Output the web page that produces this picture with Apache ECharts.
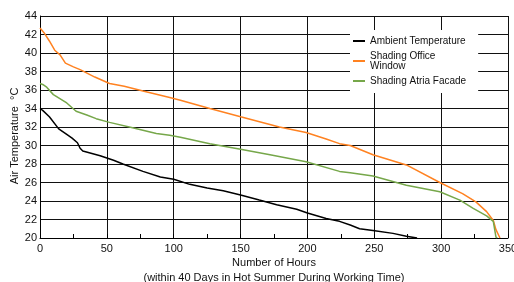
<!DOCTYPE html>
<html>
<head>
<meta charset="utf-8">
<style>
  html, body { margin: 0; padding: 0; background: #fff; }
  #main { width: 514px; height: 282px; }
</style>
<script src="https://cdn.jsdelivr.net/npm/echarts@6/dist/echarts.min.js"></script>
</head>
<body>
<div id="main"></div>
<script>
  // duration curves
  var ambientHours = [0, 2, 7, 14, 20, 24, 28, 30, 32, 45, 55, 62, 77, 90, 100, 112, 125, 137, 150, 164, 177, 192, 200, 214, 224, 232, 239, 249, 264, 274, 282];
  var ambientTemp  = [34.0, 33.8, 33.1, 31.8, 31.2, 30.8, 30.3, 29.7, 29.4, 28.9, 28.4, 28.0, 27.2, 26.6, 26.35, 25.8, 25.4, 25.1, 24.65, 24.1, 23.6, 23.1, 22.7, 22.1, 21.8, 21.4, 21.0, 20.8, 20.5, 20.2, 20.0];

  var officeHours = [0, 3, 7, 11, 15, 19, 25, 30, 41, 52, 63, 77, 97, 105, 127, 150, 179, 199, 214, 224, 232, 249, 274, 299, 316, 326, 334, 339, 341, 344];
  var officeTemp  = [42.7, 42.2, 41.3, 40.3, 39.8, 38.9, 38.5, 38.2, 37.4, 36.7, 36.4, 35.9, 35.2, 34.9, 34.0, 33.1, 32.0, 31.4, 30.7, 30.2, 30.0, 29.0, 27.9, 26.0, 24.8, 23.9, 22.85, 21.9, 20.9, 20.0];

  var atriaHours = [0, 2, 5, 10, 20, 27, 35, 42, 52, 70, 87, 97, 105, 127, 150, 172, 199, 224, 232, 249, 274, 299, 314, 324, 334, 339, 341, 342];
  var atriaTemp  = [36.7, 36.6, 36.3, 35.5, 34.6, 33.7, 33.3, 32.9, 32.5, 31.9, 31.3, 31.1, 30.9, 30.2, 29.6, 29.0, 28.25, 27.2, 27.05, 26.7, 25.7, 25.0, 24.1, 23.2, 22.4, 21.8, 20.1, 20.0];

  var seriesNames = ['Ambient Temperature', 'Shading Office\nWindow', 'Shading Atria Facade'];
  var seriesColors = ['#000000', '#FF8221', '#76A74A'];

  function pairs(xs, ys) {
    var out = [];
    for (var i = 0; i < xs.length; i++) out.push([xs[i], ys[i]]);
    return out;
  }

  var font = 'Liberation Sans, Arial, sans-serif';
  var chart = echarts.init(document.getElementById('main'));

  chart.setOption({
    animation: false,
    grid: { left: 40, right: 6, top: 16, bottom: 44, outerBoundsMode: 'none' },
    legend: {
      orient: 'vertical',
      left: 350,
      top: 30,
      backgroundColor: '#fff',
      padding: [6, 12, 7, 3],
      itemGap: 5,
      itemWidth: 12,
      itemHeight: 2,
      icon: 'rect',
      textStyle: { fontFamily: font, fontSize: 10, lineHeight: 10, color: '#111' },
      data: seriesNames
    },
    xAxis: {
      type: 'value',
      min: 0,
      max: 350,
      interval: 50,
      name: 'Number of Hours\n(within 40 Days in Hot Summer During Working Time)',
      nameLocation: 'middle',
      nameGap: 17,
      nameMoveOverlap: false,
      nameTextStyle: { fontFamily: font, fontSize: 11, lineHeight: 15, color: '#111' },
      axisLine: { lineStyle: { color: '#000', width: 1 } },
      axisTick: { inside: true, length: 4, lineStyle: { color: '#000' } },
      minorTick: { show: true, splitNumber: 2, length: 4, lineStyle: { color: '#000' } },
      axisLabel: { fontFamily: font, fontSize: 11, color: '#111', margin: 5 },
      splitLine: { show: true, lineStyle: { color: '#111', width: 1 } }
    },
    yAxis: {
      type: 'value',
      min: 20,
      max: 44,
      interval: 2,
      name: 'Air Temperature  \u00B0C',
      nameLocation: 'middle',
      nameGap: 20,
      nameMoveOverlap: false,
      nameTextStyle: { fontFamily: font, fontSize: 11, color: '#111', padding: [0, 18, 0, 0] },
      axisLine: { show: true, lineStyle: { color: '#000', width: 1 } },
      axisTick: { show: false },
      axisLabel: { fontFamily: font, fontSize: 11, color: '#111', margin: 3 },
      splitLine: { show: true, lineStyle: { color: '#111', width: 1 } }
    },
    series: [
      {
        name: seriesNames[0], type: 'line', showSymbol: false,
        itemStyle: { color: seriesColors[0] },
        lineStyle: { color: seriesColors[0], width: 1.5 },
        data: pairs(ambientHours, ambientTemp)
      },
      {
        name: seriesNames[1], type: 'line', showSymbol: false,
        itemStyle: { color: seriesColors[1] },
        lineStyle: { color: seriesColors[1], width: 1.5 },
        data: pairs(officeHours, officeTemp)
      },
      {
        name: seriesNames[2], type: 'line', showSymbol: false,
        itemStyle: { color: seriesColors[2] },
        lineStyle: { color: seriesColors[2], width: 1.5 },
        data: pairs(atriaHours, atriaTemp)
      }
    ]
  });
</script>
</body>
</html>
